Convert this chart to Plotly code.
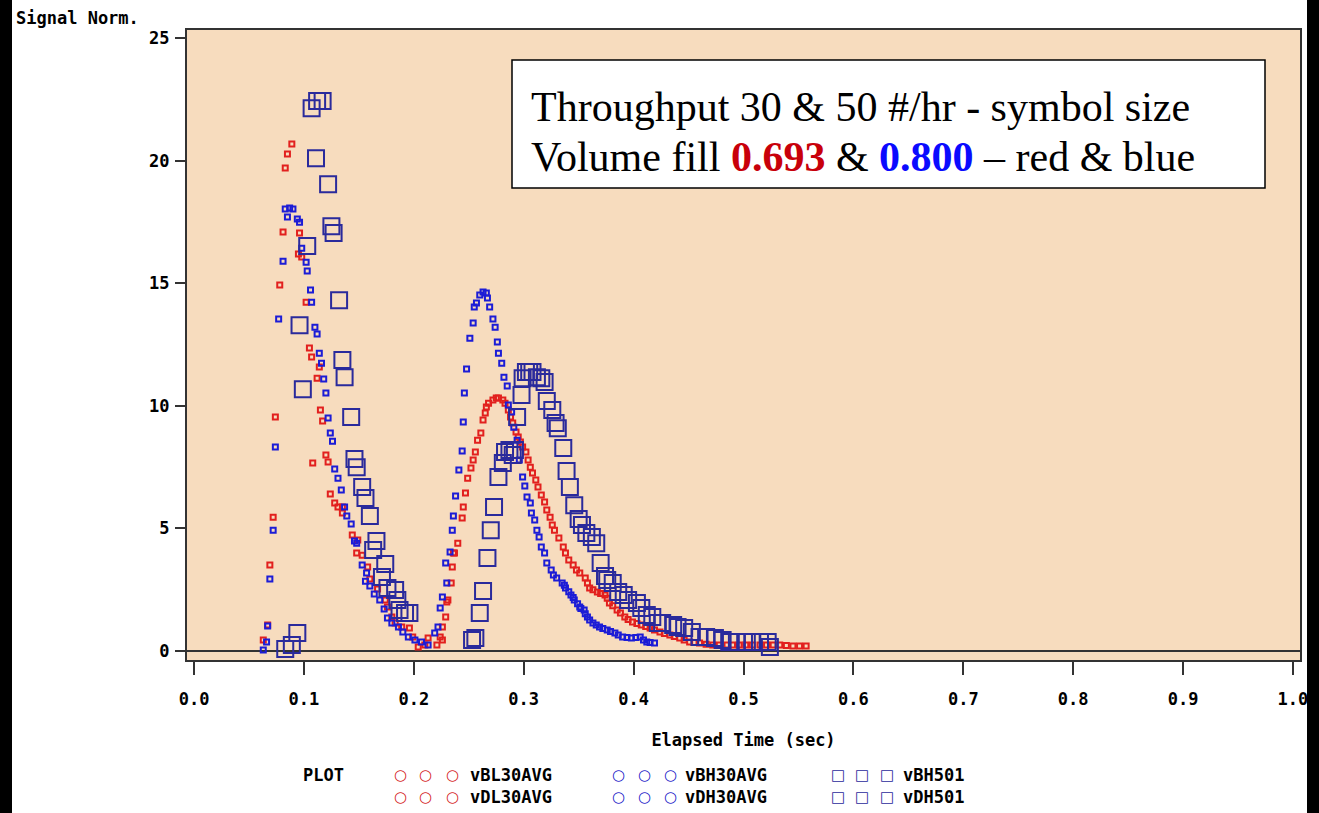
import plotly.graph_objects as go

# ---------------- data ----------------
x_ticks = [0.0, 0.1, 0.2, 0.3, 0.4, 0.5, 0.6, 0.7, 0.8, 0.9, 1.0]
x_tick_text = ["0.0", "0.1", "0.2", "0.3", "0.4", "0.5", "0.6", "0.7", "0.8", "0.9", "1.0"]
y_ticks = [0, 5, 10, 15, 20, 25]

vBL30AVG_x = [0.063, 0.067, 0.069, 0.072, 0.074, 0.078, 0.081, 0.083, 0.085, 0.089,
              0.096, 0.095, 0.098, 0.102, 0.105, 0.107, 0.112, 0.114, 0.115, 0.117,
              0.108, 0.120, 0.122, 0.124, 0.128, 0.131, 0.135, 0.135, 0.144, 0.149,
              0.148, 0.153, 0.158, 0.160, 0.167, 0.174, 0.176, 0.180, 0.183, 0.189,
              0.196, 0.199, 0.204, 0.210, 0.213, 0.221, 0.224, 0.226, 0.229, 0.231,
              0.234, 0.235, 0.236, 0.226, 0.230]
vBL30AVG_y = [0.45, 1.06, 3.51, 5.46, 9.54, 14.93, 17.09, 19.70, 20.27, 20.68,
              17.05, 16.19, 16.07, 14.23, 12.36, 11.99, 11.13, 11.58, 9.83, 9.38,
              7.67, 7.99, 7.71, 6.40, 6.04, 5.87, 5.87, 5.63, 4.73, 4.53,
              4.00, 3.91, 3.43, 2.94, 2.53, 2.08, 1.79, 1.39, 1.14, 0.98,
              0.94, 0.57, 0.16, 0.24, 0.53, 0.24, 0.57, 0.98, 1.39, 2.08,
              2.77, 3.43, 4.00, 0.45, 2.00]

vDL30AVG_x = [0.237, 0.240, 0.244, 0.245, 0.247, 0.249, 0.252, 0.254, 0.256, 0.258,
              0.261, 0.263, 0.265, 0.266, 0.268, 0.272, 0.275, 0.277, 0.281, 0.283,
              0.286, 0.288, 0.290, 0.293, 0.295, 0.297, 0.299, 0.302, 0.304, 0.306,
              0.308, 0.311, 0.313, 0.316, 0.319, 0.321, 0.324, 0.326, 0.328, 0.332,
              0.336, 0.338, 0.341, 0.345, 0.348, 0.351, 0.356, 0.358, 0.360, 0.363,
              0.367, 0.370, 0.374, 0.376, 0.378, 0.381, 0.385, 0.388, 0.392, 0.395,
              0.399, 0.403, 0.407, 0.411, 0.415, 0.419, 0.424, 0.428, 0.433, 0.437,
              0.442, 0.446, 0.451, 0.455, 0.460, 0.466, 0.472, 0.478, 0.485, 0.490,
              0.496, 0.502, 0.508, 0.515, 0.521, 0.527, 0.533, 0.539, 0.545, 0.551,
              0.557]
vDL30AVG_y = [4.00, 4.40, 5.42, 5.87, 6.44, 7.05, 7.46, 7.79, 8.12, 8.60,
              8.89, 9.42, 9.71, 9.95, 10.11, 10.24, 10.32, 10.32, 10.24, 10.11,
              9.83, 9.54, 9.30, 8.93, 8.73, 8.52, 8.32, 8.12, 7.79, 7.50,
              7.26, 6.97, 6.69, 6.36, 6.08, 5.75, 5.46, 5.14, 4.93, 4.61,
              4.24, 4.00, 3.71, 3.51, 3.30, 3.18, 2.98, 2.77, 2.57, 2.50,
              2.41, 2.35, 2.28, 2.15, 1.96, 1.85, 1.67, 1.55, 1.39, 1.28,
              1.18, 1.12, 1.06, 1.00, 0.94, 0.86, 0.77, 0.71, 0.65, 0.59,
              0.53, 0.45, 0.37, 0.35, 0.33, 0.28, 0.24, 0.24, 0.24, 0.24,
              0.24, 0.24, 0.24, 0.24, 0.24, 0.24, 0.24, 0.22, 0.20, 0.20,
              0.20]

vBH30AVG_x = [0.063, 0.066, 0.067, 0.069, 0.074, 0.072, 0.077, 0.081, 0.085, 0.083,
              0.087, 0.090, 0.094, 0.096, 0.098, 0.102, 0.103, 0.106, 0.107, 0.110,
              0.112, 0.114, 0.116, 0.118, 0.120, 0.122, 0.124, 0.126, 0.128, 0.131,
              0.134, 0.137, 0.139, 0.143, 0.146, 0.148, 0.153, 0.157, 0.156, 0.160,
              0.164, 0.169, 0.173, 0.176, 0.180, 0.186, 0.190, 0.195, 0.201, 0.207,
              0.213, 0.219, 0.222, 0.224, 0.226, 0.230, 0.229, 0.233, 0.235, 0.236]
vBH30AVG_y = [0.04, 0.37, 1.02, 2.94, 8.32, 4.93, 13.54, 15.90, 17.70, 18.03,
              18.07, 18.03, 17.62, 17.49, 16.43, 15.86, 15.50, 14.72, 14.23, 13.21,
              12.93, 12.15, 11.74, 11.09, 10.52, 9.50, 8.89, 8.56, 7.42, 7.05,
              6.57, 5.87, 5.51, 5.18, 4.49, 4.40, 3.51, 3.18, 2.85, 2.65,
              2.32, 2.08, 1.71, 1.35, 1.14, 0.98, 0.77, 0.57, 0.45, 0.37,
              0.24, 0.73, 0.98, 1.75, 2.20, 2.77, 3.59, 4.04, 4.93, 5.51]

vDH30AVG_x = [0.238, 0.241, 0.244, 0.245, 0.246, 0.248, 0.251, 0.254, 0.255, 0.257,
              0.260, 0.263, 0.266, 0.267, 0.269, 0.272, 0.274, 0.276, 0.277, 0.280,
              0.282, 0.285, 0.286, 0.289, 0.291, 0.294, 0.296, 0.299, 0.301, 0.303,
              0.306, 0.307, 0.310, 0.312, 0.314, 0.316, 0.319, 0.321, 0.325, 0.327,
              0.330, 0.335, 0.337, 0.338, 0.341, 0.343, 0.345, 0.346, 0.349, 0.351,
              0.352, 0.355, 0.356, 0.358, 0.360, 0.363, 0.366, 0.369, 0.372, 0.376,
              0.379, 0.383, 0.386, 0.390, 0.394, 0.398, 0.402, 0.406, 0.409, 0.412,
              0.415, 0.419]
vDH30AVG_y = [6.32, 7.38, 8.16, 9.34, 10.52, 11.50, 12.76, 13.38, 14.03, 14.19,
              14.52, 14.64, 14.60, 14.40, 14.03, 13.54, 13.21, 12.60, 12.15, 11.74,
              11.17, 10.81, 10.03, 9.75, 9.13, 8.60, 7.79, 7.10, 6.73, 6.28,
              6.04, 5.63, 5.34, 4.93, 4.65, 4.24, 4.00, 3.59, 3.30, 3.10,
              2.98, 2.77, 2.68, 2.57, 2.42, 2.28, 2.18, 2.08, 1.93, 1.79,
              1.73, 1.67, 1.52, 1.39, 1.26, 1.14, 1.06, 0.98, 0.92, 0.86,
              0.80, 0.73, 0.65, 0.57, 0.55, 0.53, 0.55, 0.57, 0.45, 0.37,
              0.35, 0.33]

vBH501_x = [0.083, 0.089, 0.094, 0.099, 0.096, 0.103, 0.107, 0.112, 0.117, 0.111,
            0.122, 0.125, 0.127, 0.132, 0.135, 0.137, 0.143, 0.146, 0.148, 0.153,
            0.156, 0.160, 0.166, 0.163, 0.174, 0.171, 0.176, 0.183, 0.185, 0.187,
            0.192, 0.196]
vBH501_y = [0.08, 0.24, 0.73, 10.68, 13.29, 16.52, 22.14, 22.43, 22.43, 20.10,
            19.04, 17.33, 17.05, 14.31, 11.87, 11.17, 9.54, 7.83, 7.50, 6.69,
            6.24, 5.51, 4.49, 4.12, 3.55, 3.02, 2.57, 2.49, 2.08, 1.67,
            1.55, 1.55]

vDH501_x = [0.253, 0.256, 0.260, 0.263, 0.267, 0.270, 0.273, 0.277, 0.281, 0.283,
            0.287, 0.290, 0.292, 0.294, 0.298, 0.299, 0.302, 0.305, 0.308, 0.312,
            0.316, 0.319, 0.321, 0.326, 0.329, 0.331, 0.336, 0.339, 0.342, 0.346,
            0.350, 0.353, 0.357, 0.362, 0.366, 0.370, 0.374, 0.376, 0.381, 0.386,
            0.391, 0.395, 0.403, 0.407, 0.412, 0.417, 0.422, 0.426, 0.436, 0.440,
            0.446, 0.453, 0.460, 0.466, 0.474, 0.481, 0.487, 0.494, 0.503, 0.508,
            0.515, 0.522, 0.524]
vDH501_y = [0.45, 0.53, 1.55, 2.45, 3.79, 4.93, 5.87, 7.10, 7.67, 8.12,
            8.20, 7.99, 8.20, 9.54, 10.44, 11.13, 11.38, 11.38, 11.38, 11.17,
            11.13, 10.97, 10.20, 9.83, 9.30, 9.09, 8.28, 7.34, 6.69, 5.95,
            5.38, 5.14, 4.81, 4.65, 4.40, 3.59, 3.06, 2.90, 2.77, 2.41,
            2.28, 2.08, 1.96, 1.75, 1.47, 1.39, 1.14, 1.14, 1.06, 0.98,
            0.94, 0.77, 0.57, 0.57, 0.53, 0.45, 0.37, 0.37, 0.37, 0.37,
            0.37, 0.37, 0.16]

# ---------------- styling ----------------
RED = "#e2201e"
BLUE = "#1c1cd6"
NAVY = "#2a2a9c"
PEACH = "#f7dcbe"
AXIS = "#333333"
MONO = dict(family="DejaVu Sans Mono", size=17, color="black", weight="bold")

W, H = 1319, 813
L, R, T, B = 187, 19, 30, 153
PW, PH = W - L - R, H - T - B


def px_x(p):
    return (p - L) / PW


def px_y(p):
    return (H - B - p) / PH


fig = go.Figure()

series = [
    ("vBL30AVG", vBL30AVG_x, vBL30AVG_y, RED, "square-open", 5),
    ("vDL30AVG", vDL30AVG_x, vDL30AVG_y, RED, "square-open", 5),
    ("vBH30AVG", vBH30AVG_x, vBH30AVG_y, BLUE, "square-open", 5),
    ("vDH30AVG", vDH30AVG_x, vDH30AVG_y, BLUE, "square-open", 5),
    ("vBH501", vBH501_x, vBH501_y, NAVY, "square-open", 16),
    ("vDH501", vDH501_x, vDH501_y, NAVY, "square-open", 16),
]
for name, xs, ys, col, sym, size in series:
    fig.add_trace(go.Scatter(
        x=xs, y=ys, mode="markers", name=name,
        marker=dict(symbol=sym, size=size, color=col,
                    line=dict(width=2, color=col)),
    ))

annotations = []
shapes = []

# y label at top-left
annotations.append(dict(text="Signal Norm.", xref="paper", yref="paper",
                        x=px_x(14), y=px_y(18), xanchor="left", yanchor="middle",
                        showarrow=False, font=MONO))

# text box
shapes.append(dict(type="rect", xref="paper", yref="paper",
                   x0=px_x(512), x1=px_x(1265), y0=px_y(188), y1=px_y(60),
                   fillcolor="white", line=dict(color="black", width=1.5), layer="above"))
SERIF = dict(family="Liberation Serif", size=42, color="black")
annotations.append(dict(text="Throughput 30 & 50 #/hr - symbol size",
                        xref="paper", yref="paper", x=px_x(529), y=px_y(107),
                        xanchor="left", yanchor="middle", showarrow=False, font=SERIF))
annotations.append(dict(text="Volume fill <b><span style='color:#c8000a'>0.693</span></b> &amp; "
                             "<b><span style='color:#0a0aff'>0.800</span></b> \u2013 red &amp; blue",
                        xref="paper", yref="paper", x=px_x(529), y=px_y(157),
                        xanchor="left", yanchor="middle", showarrow=False, font=SERIF))

# custom legend block
row_y = [775, 797]
annotations.append(dict(text="PLOT", xref="paper", yref="paper", x=px_x(301), y=px_y(row_y[0]),
                        xanchor="left", yanchor="middle", showarrow=False, font=MONO))
legend_groups = [
    (["vBL30AVG", "vDL30AVG"], "\u25cb", "#d42020", [400, 425, 452], 468),
    (["vBH30AVG", "vDH30AVG"], "\u25cb", "#2020c8", [618, 644, 670], 683),
    (["vBH501", "vDH501"], "\u25a1", NAVY, [838, 862, 887], 901),
]
for names, glyph, col, sx, lx in legend_groups:
    for r, nm in enumerate(names):
        for cx in sx:
            annotations.append(dict(text=glyph, xref="paper", yref="paper",
                                    x=px_x(cx), y=px_y(row_y[r]), xanchor="center", yanchor="middle",
                                    showarrow=False,
                                    font=dict(family="DejaVu Sans", size=15, color=col, weight="bold")))
        annotations.append(dict(text=nm, xref="paper", yref="paper", x=px_x(lx), y=px_y(row_y[r]),
                                xanchor="left", yanchor="middle", showarrow=False, font=MONO))

# black edge strips (the page frame seen in the reference)
shapes.append(dict(type="rect", xref="paper", yref="paper", x0=px_x(-30), x1=px_x(12),
                   y0=px_y(H + 20), y1=px_y(-20), fillcolor="black", line=dict(width=0), layer="above"))
shapes.append(dict(type="rect", xref="paper", yref="paper", x0=px_x(1307), x1=px_x(W + 30),
                   y0=px_y(H + 20), y1=px_y(-20), fillcolor="black", line=dict(width=0), layer="above"))

fig.update_layout(
    width=W, height=H,
    margin=dict(l=L, r=R, t=T, b=B, pad=0),
    paper_bgcolor="white", plot_bgcolor=PEACH,
    showlegend=False,
    annotations=annotations, shapes=shapes,
    xaxis=dict(range=[-0.0064, 1.0064], tickvals=x_ticks, ticktext=x_tick_text,
               ticks="outside", ticklen=13, tickwidth=2, tickcolor=AXIS,
               showline=True, linecolor=AXIS, linewidth=2, mirror=True,
               showgrid=False, zeroline=False, tickfont=MONO, ticklabelstandoff=10,
               title=dict(text="Elapsed Time (sec)", font=MONO, standoff=26)),
    yaxis=dict(range=[-0.367, 25.33], tickvals=y_ticks,
               ticks="outside", ticklen=10, tickwidth=2, tickcolor=AXIS,
               showline=True, linecolor=AXIS, linewidth=2, mirror=True,
               showgrid=False, zeroline=True, zerolinecolor=AXIS, zerolinewidth=1.5,
               tickfont=MONO, ticklabelstandoff=2),
)

# page frame: black page background with the figure left as is
fig.write_html("out.html", config={"displayModeBar": False},
               post_script="document.body.style.margin='0';"
                           "document.documentElement.style.background='black';"
                           "document.body.style.background='black';"
                           "document.body.style.overflow='hidden';")
